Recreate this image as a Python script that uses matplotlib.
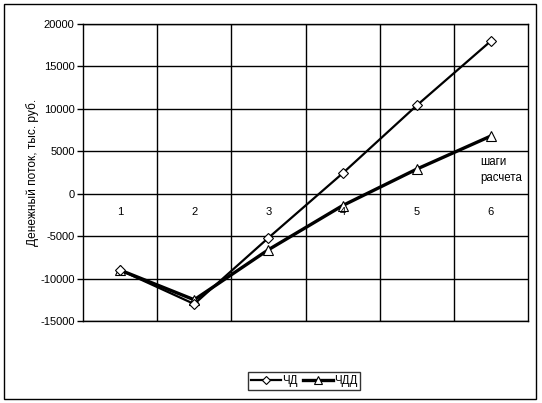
import matplotlib
matplotlib.use("Agg")
import matplotlib.pyplot as plt
from matplotlib.patches import Rectangle

steps = [1, 2, 3, 4, 5, 6]
step_labels = ["1", "2", "3", "4", "5", "6"]
chd = [-9000, -13000, -5200, 2400, 10400, 18000]
chdd = [-9000, -12500, -6600, -1400, 2900, 6800]
yticks = [-15000, -10000, -5000, 0, 5000, 10000, 15000, 20000]

plt.rcParams['font.family'] = ['Liberation Sans', 'DejaVu Sans']
plt.rcParams['font.size'] = 8

fig = plt.figure(figsize=(5.42, 4.03), dpi=100)
ax = fig.add_axes([83/542, 1-321/403, 445/542, 297/403])

ax.plot(steps, chd, color='black', lw=1.6, marker='D', markersize=5,
        markerfacecolor='white', markeredgecolor='black', markeredgewidth=0.8, label='ЧД', zorder=4)
ax.plot(steps, chdd, color='black', lw=2.4, marker='^', markersize=7,
        markerfacecolor='white', markeredgecolor='black', markeredgewidth=0.8, label='ЧДД', zorder=3)

ax.set_xlim(0.5, 6.5)
ax.set_ylim(-15000, 20000)
ax.set_yticks(yticks)
ax.set_yticklabels([str(v) for v in yticks])
ax.set_xticks([1.5, 2.5, 3.5, 4.5, 5.5])
ax.set_xticklabels([])
ax.tick_params(axis='x', length=0)
ax.tick_params(axis='y', length=4, width=1, direction='out', pad=2)
ax.grid(True, color='black', lw=1)
ax.set_axisbelow(True)
for s in ax.spines.values():
    s.set_linewidth(1)

for x, lab in zip(steps, step_labels):
    ax.annotate(lab, xy=(x, 0), xytext=(0, -18), textcoords='offset pixels',
                ha='center', va='center', fontsize=8)

ax.set_ylabel('Денежный поток, тыс. руб.', labelpad=1, fontsize=8.6)
ax.text(0.892, 0.508, 'шаги\nрасчета', transform=ax.transAxes, ha='left', va='center',
        fontsize=8.3, linespacing=1.4)

leg = fig.legend(loc='center', bbox_to_anchor=(304/542, 1-381/403), ncol=2, frameon=True,
                 fancybox=False, edgecolor='black', handlelength=2.6, handletextpad=0.1,
                 columnspacing=0.5, borderpad=0.25, fontsize=8.3, markerscale=0.8)
leg.get_frame().set_linewidth(1)

fig.patches.append(Rectangle((4/542, 1-399/403), 532/542, 395/403, transform=fig.transFigure,
                             fill=False, edgecolor='black', lw=1))

fig.savefig('out.png', dpi=100)
